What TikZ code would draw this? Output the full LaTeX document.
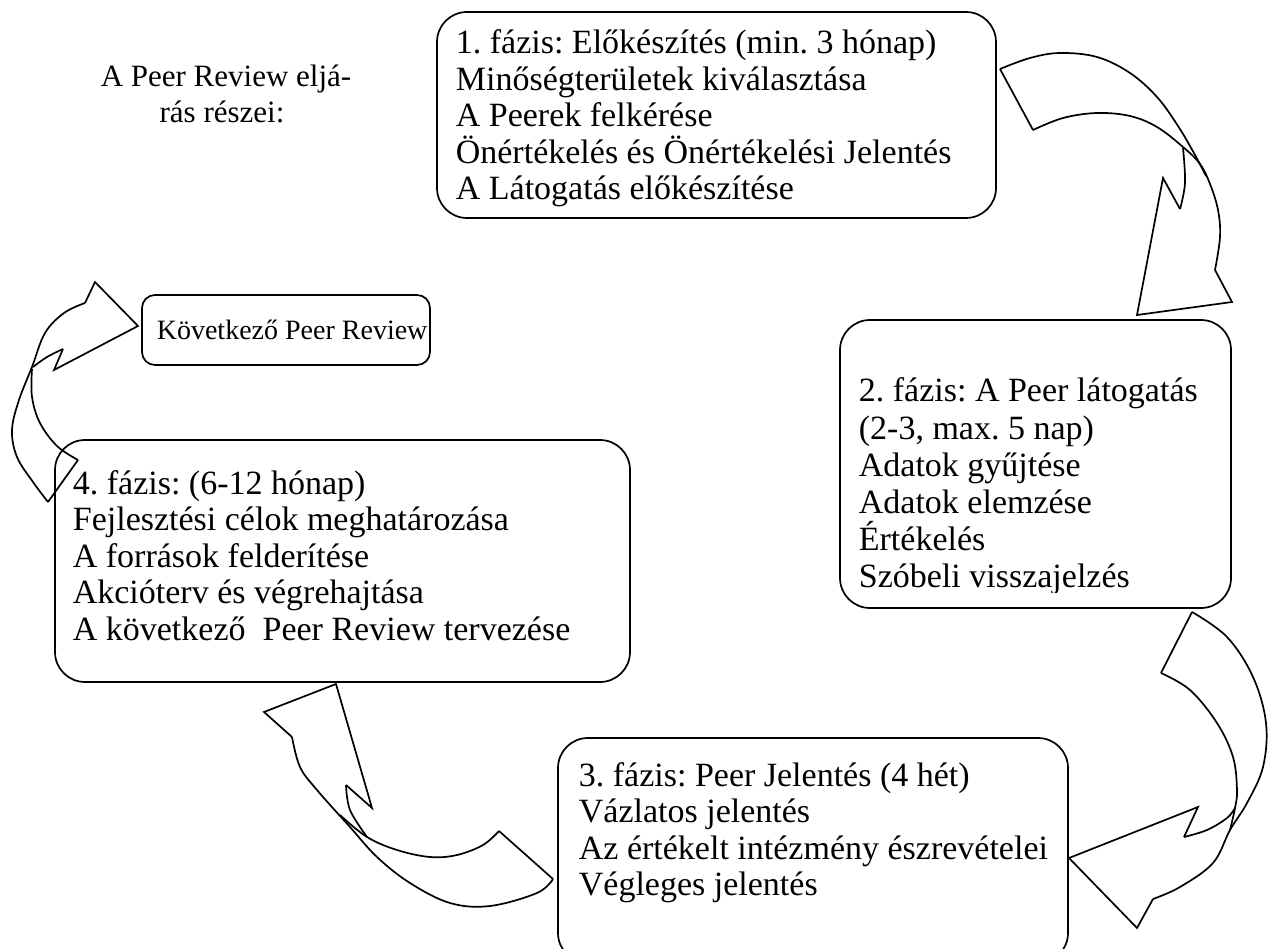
\documentclass[tikz,border=0pt]{standalone}
\usepackage{fontspec}
\setmainfont{Liberation Serif}
\frenchspacing
\begin{document}
\begin{tikzpicture}[x=1pt,y=-1pt,line width=1.7pt,line join=miter,
  box/.style={draw,rounded corners=30pt,inner sep=0pt},
  sbox/.style={draw,rounded corners=13pt,inner sep=0pt},
  txt/.style={anchor=base west,inner sep=0pt,font=\fontsize{34}{36}\selectfont},
  stxt/.style={anchor=base west,inner sep=0pt,font=\fontsize{28}{33}\selectfont},
  ctxt/.style={anchor=base,inner sep=0pt,font=\fontsize{31}{36}\selectfont}]
\useasboundingbox (0,0) rectangle (1272,949);
\clip (0,0) rectangle (1272,949);

% ---- title ----
\node[ctxt] (t1) at (226,87) {A Peer Review eljá-};
\node[ctxt] (t2) at (222,123) {rás részei:};

% ---- boxes ----
\draw[box] (437,12) rectangle (996,218);
\draw[sbox] (142,295) rectangle (430,365);
\draw[box] (840,320) rectangle (1231,608);
\draw[box] (55,440) rectangle (630,682);
\draw[box] (558,738) rectangle (1068,963);

% ---- box 1 text ----
\node[txt] (p1a) at (455,54)    {1. fázis: Előkészítés (min. 3 hónap)};
\node[txt] (p1b) at (455,90.5)  {Minőségterületek kiválasztása};
\node[txt] (p1c) at (455,127)   {A Peerek felkérése};
\node[txt] (p1d) at (455,163.5) {Önértékelés és Önértékelési Jelentés};
\node[txt] (p1e) at (455,200)   {A Látogatás előkészítése};

% ---- next peer review ----
\node[stxt] (nx) at (156,340) {Következő Peer Review};

% ---- box 2 text (clipped at the bottom) ----
\begin{scope}
\clip (840,320) rectangle (1231,592);
\node[txt] (p2a) at (858,402) {2. fázis: A Peer látogatás};
\node[txt] (p2b) at (858,439) {(2-3, max. 5 nap)};
\node[txt] (p2c) at (858,476) {Adatok gyűjtése};
\node[txt] (p2d) at (858,513) {Adatok elemzése};
\node[txt] (p2e) at (858,550) {Értékelés};
\node[txt] (p2f) at (858,587) {Szóbeli visszajelzés};
\end{scope}

% ---- box 3 text ----
\node[txt] (p3a) at (578,786)   {3. fázis: Peer Jelentés (4 hét)};
\node[txt] (p3b) at (578,822.5) {Vázlatos jelentés};
\node[txt] (p3c) at (578,859)   {Az értékelt intézmény észrevételei};
\node[txt] (p3d) at (578,895.5) {Végleges jelentés};

% ---- box 4 text ----
\node[txt] (p4a) at (72,494)   {4. fázis: (6-12 hónap)};
\node[txt] (p4b) at (72,530.5) {Fejlesztési célok meghatározása};
\node[txt] (p4c) at (72,567)   {A források felderítése};
\node[txt] (p4d) at (72,603.5) {Akcióterv és végrehajtása};
\node[txt] (p4e) at (72,640)   {A következő\ \ Peer Review tervezése};

% ---- arrow 1 (top right, downwards) ----
\draw (1000,69) -- (1033,130);
\draw plot[smooth,tension=0.6] coordinates {(1000,69) (1030,58) (1060,53) (1097,57) (1130,73) (1157,97) (1178,126) (1195,155) (1206,176)};
\draw plot[smooth,tension=0.6] coordinates {(1033,130) (1063,118) (1097,113) (1130,116) (1157,127) (1183,147) (1200,164) (1210,184) (1218,210) (1220,237) (1215,270)};
\draw plot[smooth,tension=0.6] coordinates {(1180,209) (1185,183) (1183,148)};
\draw (1180,209) -- (1163,178) -- (1137,315) -- (1232,302) -- (1215,270);

% ---- arrow 2 (right, downwards to box 3) ----
\draw (1192,612) -- (1161,673);
\draw plot[smooth,tension=0.6] coordinates {(1192,612) (1227,637) (1253,677) (1266,723) (1263,767) (1247,803) (1230,830) (1213,863) (1180,887) (1153,899)};
\draw plot[smooth,tension=0.6] coordinates {(1161,673) (1190,690) (1217,723) (1233,757) (1237,790) (1235,808) (1230,830)};
\draw plot[smooth,tension=0.6] coordinates {(1184,837) (1207,830) (1227,818) (1235,808)};
\draw (1153,899) -- (1137,928) -- (1069,858) -- (1198,807) -- (1184,837);

% ---- arrow 3 (bottom, to box 4) ----
\draw (553,879) -- (499,831);
\draw plot[smooth,tension=0.6] coordinates {(553,879) (537,893) (490,906) (450,903) (410,883) (377,857) (350,827) (317,790) (300,767) (292,737)};
\draw plot[smooth,tension=0.6] coordinates {(499,831) (483,845) (457,855) (430,857) (397,850) (367,837) (340,815)};
\draw plot[smooth,tension=0.6] coordinates {(346,785) (350,810) (367,837)};
\draw (292,737) -- (264,712) -- (336,684) -- (372,808) -- (346,785);

% ---- arrow 4 (left, up to next peer review) ----
\draw (48,502) -- (78,460);
\draw plot[smooth,tension=0.6] coordinates {(85,303) (64,313) (45,333) (32,367) (19,400) (12,430) (17,457) (33,482) (48,502)};
\draw plot[smooth,tension=0.6] coordinates {(78,460) (57,446) (40,423) (32,397) (32,369)};
\draw plot[smooth,tension=0.6] coordinates {(63,349) (47,357) (33,367)};
\draw (85,303) -- (95,282) -- (138,326) -- (54,370) -- (63,349);
\end{tikzpicture}
\end{document}
